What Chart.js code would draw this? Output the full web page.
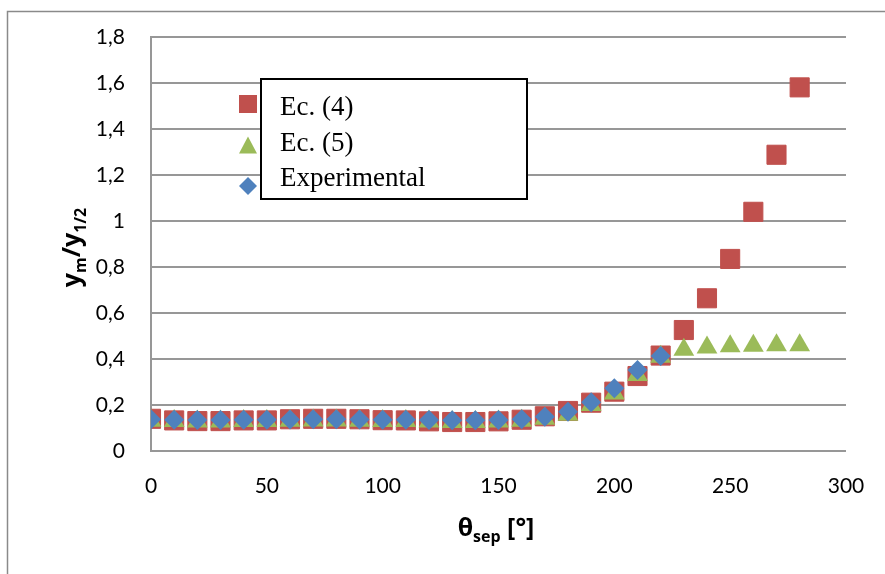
<!DOCTYPE html>
<html>
<head>
<meta charset="utf-8">
<script src="https://cdn.jsdelivr.net/npm/chart.js@4"></script>
<style>
  body { margin: 0; background: #fff; }
</style>
</head>
<body>
<canvas id="myChart" width="885" height="574"></canvas>
<script>
var theta = [0, 10, 20, 30, 40, 50, 60, 70, 80, 90, 100, 110, 120, 130, 140,
  150, 160, 170, 180, 190, 200, 210, 220, 230, 240, 250, 260, 270, 280];
var ec4 = [0.140, 0.133, 0.130, 0.130, 0.133, 0.133, 0.138, 0.140, 0.140, 0.138,
  0.134, 0.133, 0.129, 0.126, 0.126, 0.129, 0.136, 0.151, 0.174, 0.210,
  0.258, 0.326, 0.415, 0.526, 0.664, 0.835, 1.040, 1.288, 1.581];
var ec5 = [0.132, 0.130, 0.128, 0.128, 0.130, 0.130, 0.132, 0.133, 0.133, 0.132,
  0.130, 0.130, 0.128, 0.126, 0.126, 0.128, 0.131, 0.140, 0.158, 0.200,
  0.250, 0.330, 0.410, 0.440, 0.450, 0.455, 0.458, 0.460, 0.460];
var experimental = [0.138, 0.136, 0.135, 0.135, 0.136, 0.136, 0.137, 0.138, 0.138, 0.137,
  0.136, 0.136, 0.135, 0.134, 0.134, 0.135, 0.138, 0.149, 0.171, 0.212,
  0.273, 0.352, 0.413];
var yTicks = [0, 0.2, 0.4, 0.6, 0.8, 1, 1.2, 1.4, 1.6, 1.8];
var seriesNames = ['Ec. (4)', 'Ec. (5)', 'Experimental'];

var red = '#C0504D';
var green = '#9BBB59';
var blue = '#4F81BD';
var gridColor = '#979797';

function pairs(xs, ys) {
  var out = [];
  for (var i = 0; i < ys.length; i++) {
    out.push({ x: xs[i], y: ys[i] });
  }
  return out;
}

// frame, legend box and axis titles with subscripts
var decorations = {
  id: 'decorations',
  beforeDraw: function(chart) {
    var ctx = chart.ctx;
    ctx.save();
    ctx.fillStyle = '#fff';
    ctx.fillRect(0, 0, chart.width, chart.height);
    ctx.strokeStyle = '#8a8a8a';
    ctx.lineWidth = 1.5;
    ctx.strokeRect(7.5, 11.5, 900, 600);
    ctx.restore();
  },
  afterDraw: function(chart) {
    var ctx = chart.ctx;
    ctx.save();

    // legend
    ctx.fillStyle = '#fff';
    ctx.fillRect(261, 79, 266, 120);
    ctx.strokeStyle = '#000';
    ctx.lineWidth = 2;
    ctx.strokeRect(261, 79, 266, 120);
    ctx.fillStyle = '#000';
    ctx.font = '27px "Liberation Serif", "Times New Roman", serif';
    ctx.textBaseline = 'alphabetic';
    ctx.textAlign = 'left';
    ctx.fillText(seriesNames[0], 280, 115);
    ctx.fillText(seriesNames[1], 280, 151);
    ctx.fillText(seriesNames[2], 280, 186);

    ctx.fillStyle = red;
    ctx.fillRect(239, 95, 18, 18);
    ctx.fillStyle = green;
    ctx.beginPath();
    ctx.moveTo(248, 136.5);
    ctx.lineTo(257, 153.5);
    ctx.lineTo(239, 153.5);
    ctx.closePath();
    ctx.fill();
    ctx.fillStyle = blue;
    ctx.beginPath();
    ctx.moveTo(248, 177);
    ctx.lineTo(257, 186);
    ctx.lineTo(248, 195);
    ctx.lineTo(239, 186);
    ctx.closePath();
    ctx.fill();

    // x title: theta_sep [°]
    var big = 'bold 25px "Open Sans", sans-serif';
    var small = 'bold 16px "Open Sans", sans-serif';
    ctx.fillStyle = '#000';
    ctx.font = big;
    var w1 = ctx.measureText('\u03B8').width;
    var w3 = ctx.measureText(' [\u00B0]').width;
    ctx.font = small;
    var w2 = ctx.measureText('sep').width;
    var x0 = 496 - (w1 + w2 + w3) / 2;
    ctx.font = big;
    ctx.fillText('\u03B8', x0, 536);
    ctx.font = small;
    ctx.fillText('sep', x0 + w1, 542);
    ctx.font = big;
    ctx.fillText(' [\u00B0]', x0 + w1 + w2, 536);

    // y title: y_m / y_1/2
    ctx.translate(80, 247.5);
    ctx.rotate(-Math.PI / 2);
    var parts = [['y', big, 0], ['m', small, 6], ['/y', big, 0], ['1/2', small, 6]];
    var total = 0;
    parts.forEach(function(p) { ctx.font = p[1]; total += ctx.measureText(p[0]).width; });
    var px = -total / 2;
    parts.forEach(function(p) {
      ctx.font = p[1];
      ctx.fillText(p[0], px, p[2]);
      px += ctx.measureText(p[0]).width;
    });

    ctx.restore();
  }
};

var ctx = document.getElementById('myChart').getContext('2d');
var myChart = new Chart(ctx, {
  type: 'scatter',
  data: {
    datasets: [{
      label: seriesNames[0],
      data: pairs(theta, ec4),
      pointStyle: 'rect',
      pointRadius: 13.5,
      backgroundColor: red,
      borderColor: red,
      borderWidth: 1,
      order: 3
    }, {
      label: seriesNames[1],
      data: pairs(theta, ec5),
      pointStyle: 'triangle',
      pointRadius: 12,
      backgroundColor: green,
      borderColor: green,
      borderWidth: 0,
      order: 2
    }, {
      label: seriesNames[2],
      data: pairs(theta, experimental),
      pointStyle: 'rectRot',
      pointRadius: 10,
      backgroundColor: blue,
      borderColor: blue,
      borderWidth: 0,
      order: 1
    }]
  },
  options: {
    responsive: false,
    animation: false,
    events: [],
    layout: { padding: { left: 0, top: 37, right: 39, bottom: 0 } },
    plugins: {
      legend: { display: false },
      tooltip: { enabled: false }
    },
    scales: {
      x: {
        type: 'linear',
        min: 0,
        max: 300,
        afterFit: function(s) {
          s.height = 123;
          s.paddingLeft = 0;
          s.paddingRight = 0;
        },
        grid: { display: false, drawTicks: false },
        border: { display: false },
        ticks: {
          stepSize: 50,
          padding: 23,
          color: '#000',
          font: { family: 'Lato', size: 21 }
        }
      },
      y: {
        min: 0,
        max: 1.8,
        afterFit: function(s) {
          s.width = 151;
          s.paddingTop = 0;
          s.paddingBottom = 0;
        },
        afterBuildTicks: function(s) {
          s.ticks = yTicks.map(function(v) { return { value: v }; });
        },
        grid: { color: gridColor, lineWidth: 2, drawTicks: false },
        border: { display: true, color: gridColor, width: 2 },
        ticks: {
          padding: 26,
          color: '#000',
          font: { family: 'Lato', size: 21 },
          callback: function(v) { return String(Math.round(v * 10) / 10).replace('.', ','); }
        }
      }
    }
  },
  plugins: [decorations]
});
</script>
</body>
</html>
